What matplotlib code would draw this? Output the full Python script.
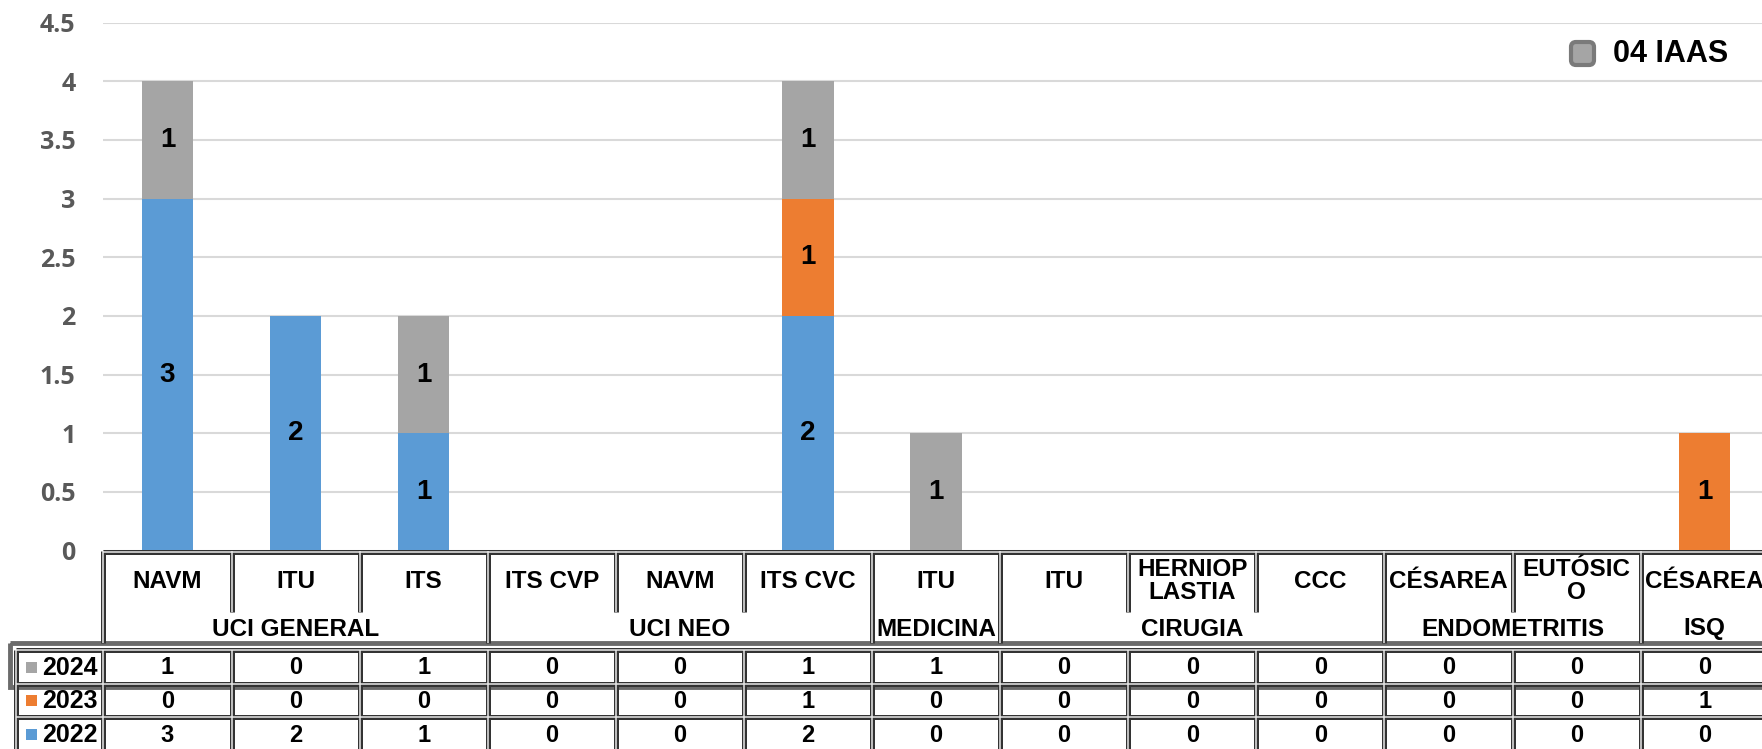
import matplotlib.pyplot as plt
from matplotlib.patches import FancyBboxPatch, Rectangle

# data
categories = ["NAVM", "ITU", "ITS", "ITS CVP", "NAVM", "ITS CVC", "ITU", "ITU",
              "HERNIOP\nLASTIA", "CCC", "CÉSAREA", "EUTÓSIC\nO", "CÉSAREA"]
groups = ["UCI GENERAL", "UCI NEO", "MEDICINA", "CIRUGIA", "ENDOMETRITIS", "ISQ"]
group_sizes = [3, 3, 1, 3, 2, 1]
years = ["2024", "2023", "2022"]
v2024 = [1, 0, 1, 0, 0, 1, 1, 0, 0, 0, 0, 0, 0]
v2023 = [0, 0, 0, 0, 0, 1, 0, 0, 0, 0, 0, 0, 1]
v2022 = [3, 2, 1, 0, 0, 2, 0, 0, 0, 0, 0, 0, 0]
yticks = [0, 0.5, 1, 1.5, 2, 2.5, 3, 3.5, 4, 4.5]
legend_label = "04 IAAS"

colors = {"2022": "#5B9BD5", "2023": "#ED7D31", "2024": "#A5A5A5"}
FONT = "Liberation Sans"

# layout in pixels of the 1762x749 picture
W, H = 1762, 749
x_left, col_w = 103.4, 128.1
y_zero, y_top = 550.6, 22.5
n = len(categories)

fig = plt.figure(figsize=(W / 100, H / 100), dpi=100)

# ---- stacked bars
ax = fig.add_axes([x_left / W, (H - y_zero) / H, n * col_w / W, (y_zero - y_top) / H])
x = list(range(n))
bottom = [0] * n
for year, vals in [("2022", v2022), ("2023", v2023), ("2024", v2024)]:
    ax.bar(x, vals, width=0.4, bottom=bottom, color=colors[year], zorder=2)
    for i, v in enumerate(vals):
        if v:
            ax.text(i, bottom[i] + v / 2, str(v), ha="center", va="center",
                    fontsize=20, fontweight="bold", family=FONT, zorder=3)
    bottom = [b + v for b, v in zip(bottom, vals)]

ax.set_xlim(-0.5, n - 0.5)
ax.set_ylim(0, 4.5)
ax.set_yticks(yticks)
ax.set_yticklabels([f"{t:g}" for t in yticks], fontdict={
    "family": ["Open Sans", "DejaVu Sans"], "weight": "bold", "size": 18})
ax.set_xticks([])
ax.tick_params(axis="y", length=0, pad=20, labelcolor="#595959")
ax.grid(axis="y", color="#d9d9d9", lw=1.5, zorder=0)
for s in ax.spines.values():
    s.set_visible(False)

# ---- data table under the plot
tab = fig.add_axes([0, 0, 1, (H - y_zero) / H])
tab.set_xlim(-0.5 - x_left / col_w, -0.5 + (W - x_left) / col_w)
tab.set_ylim(H, y_zero)
tab.axis("off")


def px(xp):
    return -0.5 + (xp - x_left) / col_w


y_sub_bot, y_hdr_bot = 612, 643
row_edges = [650, 684, 717, 752]
rh_left = px(16)

segs = []
segs.append(([-0.5, n - 0.5], [y_zero + 1.5, y_zero + 1.5]))
bounds = [0]
for g in group_sizes:
    bounds.append(bounds[-1] + g)
for k in range(n + 1):
    yb = y_hdr_bot if k in bounds else y_sub_bot
    segs.append(([k - 0.5, k - 0.5], [y_zero, yb]))
for ye in row_edges:
    segs.append(([rh_left, n - 0.5], [ye, ye]))
for xv in [rh_left] + [k - 0.5 for k in range(n + 1)]:
    segs.append(([xv, xv], [row_edges[0], row_edges[-1]]))

for xs, ys in segs:
    tab.plot(xs, ys, color="#333333", lw=3.6, solid_capstyle="butt", clip_on=False)
for xs, ys in segs:
    tab.plot(xs, ys, color="#e8e8e8", lw=1.1, solid_capstyle="butt", clip_on=False)

# header labels
for i, c in enumerate(categories):
    tab.text(i, 581, c, ha="center", va="center", fontsize=17.5,
             fontweight="bold", family=FONT, linespacing=0.95)
for g, a, b in zip(groups, bounds[:-1], bounds[1:]):
    tab.text((a + b - 1) / 2, 629, g, ha="center", va="center", fontsize=17.5,
             fontweight="bold", family=FONT)

# rows
rows = {"2024": v2024, "2023": v2023, "2022": v2022}
for r, year in enumerate(years):
    yc = (row_edges[r] + row_edges[r + 1]) / 2
    tab.add_patch(Rectangle((px(26), yc - 5.5), 11 / col_w, 11,
                            color=colors[year], lw=0))
    tab.text(px(42), yc + 1, year, ha="left", va="center", fontsize=18,
             fontweight="bold", family=FONT)
    for i, v in enumerate(rows[year]):
        tab.text(i, yc + 1, str(v), ha="center", va="center", fontsize=17,
                 fontweight="bold", family=FONT)

# highlight box round the 2024 row
tab.add_patch(Rectangle((px(10), y_hdr_bot), px(W + 30) - px(10), 44,
                        fill=False, ec="#6b6b6b", lw=3.5, clip_on=False))

# ---- legend
over = fig.add_axes([0, 0, 1, 1])
over.set_xlim(0, W)
over.set_ylim(H, 0)
over.axis("off")
over.add_patch(FancyBboxPatch((1571, 42), 23, 23,
                              boxstyle="round,pad=0,rounding_size=5",
                              fc=colors["2024"], ec="#7a7a7a", lw=3))
over.text(1613, 54, legend_label, ha="left", va="center", fontsize=22,
          fontweight="bold", family=FONT)

fig.savefig("out.png", dpi=100)
